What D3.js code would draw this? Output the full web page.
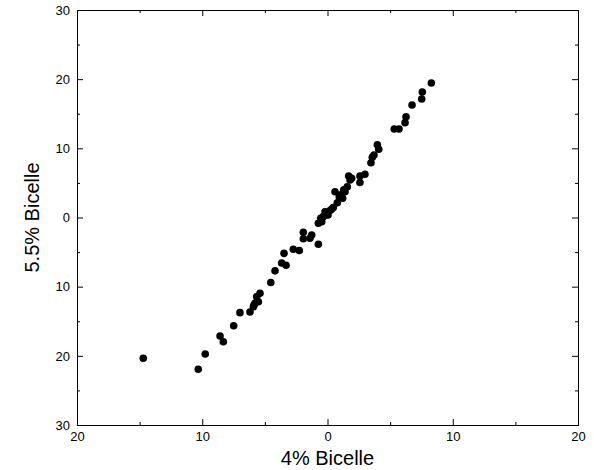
<!DOCTYPE html>
<html>
<head>
<meta charset="utf-8">
<script src="https://cdn.jsdelivr.net/npm/d3@7"></script>
<style>
  html, body { margin: 0; padding: 0; background: #fff; }
  svg { display: block; }
  .tick text { font-family: "Liberation Sans", Arial, Helvetica, sans-serif; font-size: 13px; fill: #000; }
</style>
</head>
<body>
<script>
// Data (4% Bicelle vs 5.5% Bicelle)
const xValues = [8.29, 7.57, 7.52, 6.75, 6.27, 6.19, 5.33, 5.71, 3.98, 4.09, 3.71, 3.58, 3.47, 2.99, 2.59, 2.59,
  1.69, 1.93, 1.80, 1.58, 1.40, 1.21, 0.60, 0.94, 0.78, 0.46, 0.34, -0.20, -0.34, -0.54, -0.73, -0.46, 0.04,
  0.20, -0.10, 1.05, 1.30,
  -1.93, -1.26, -1.93, -1.40, -0.73, -2.73, -2.25, -3.47, -3.66, -3.31, -4.19, -4.53, -5.39, -5.65, -5.79,
  -5.92, -5.52, -5.87, -6.19, -6.99, -7.49, -8.58, -8.32, -9.76, -10.32, -14.71];
const yValues = [19.45, 18.14, 17.13, 16.27, 14.57, 13.71, 12.79, 12.79, 10.52, 9.86, 9.04, 8.70, 7.92, 6.25, 6.00, 5.06,
  6.00, 5.67, 5.42, 4.45, 3.73, 2.78, 3.73, 3.01, 2.14, 1.45, 1.23, 0.84, 0.12, -0.12, -0.84, -0.61, 0.36,
  1.00, 0.40, 3.30, 4.00,
  -2.13, -2.53, -3.08, -3.01, -3.87, -4.60, -4.77, -5.18, -6.58, -6.90, -7.71, -9.40, -10.96, -11.45, -12.41,
  -12.90, -12.17, -12.65, -13.66, -13.76, -15.64, -17.13, -17.96, -19.73, -21.95, -20.36];
const xTicks = [-20, -10, 0, 10, 20];
const xMinorTicks = [-15, -5, 5, 15];
const yTicks = [-30, -20, -10, 0, 10, 20, 30];
const yMinorTicks = [-25, -15, -5, 5, 15, 25];
const xTitle = "4% Bicelle";
const yTitle = "5.5% Bicelle";

const W = 594, H = 470;
const L = 77, R = 578, T = 10, B = 425;

const svg = d3.select("body").append("svg").attr("width", W).attr("height", H);

const x = d3.scaleLinear().domain([-20, 20]).range([L, R]);
const y = d3.scaleLinear().domain([-30, 30]).range([B, T]);

const fmt = d => String(Math.abs(d));

function addAxis(axisGen, transform, showLabels) {
  const g = svg.append("g").attr("transform", transform).call(axisGen);
  g.select(".domain").remove();
  g.selectAll(".tick line").attr("stroke", "#000").attr("stroke-width", 1);
  if (!showLabels) g.selectAll(".tick text").remove();
  return g;
}

// Major ticks (inward)
addAxis(d3.axisBottom(x).tickValues(xTicks).tickFormat(fmt).tickSize(-6).tickSizeOuter(0).tickPadding(7), `translate(0,${B})`, true);
addAxis(d3.axisTop(x).tickValues(xTicks).tickSize(-6).tickSizeOuter(0), `translate(0,${T})`, false);
addAxis(d3.axisLeft(y).tickValues(yTicks).tickFormat(fmt).tickSize(-6).tickSizeOuter(0).tickPadding(7), `translate(${L},0)`, true);
addAxis(d3.axisRight(y).tickValues(yTicks).tickSize(-6).tickSizeOuter(0), `translate(${R},0)`, false);
// Minor ticks
addAxis(d3.axisBottom(x).tickValues(xMinorTicks).tickSize(-3).tickSizeOuter(0), `translate(0,${B})`, false);
addAxis(d3.axisTop(x).tickValues(xMinorTicks).tickSize(-3).tickSizeOuter(0), `translate(0,${T})`, false);
addAxis(d3.axisLeft(y).tickValues(yMinorTicks).tickSize(-3).tickSizeOuter(0), `translate(${L},0)`, false);
addAxis(d3.axisRight(y).tickValues(yMinorTicks).tickSize(-3).tickSizeOuter(0), `translate(${R},0)`, false);

// Frame
svg.append("rect")
  .attr("x", L + 0.5).attr("y", T + 0.5)
  .attr("width", R - L).attr("height", B - T)
  .attr("fill", "none").attr("stroke", "#000").attr("stroke-width", 1);

// Points
const data = xValues.map((v, i) => ({ x: v, y: yValues[i] }));
svg.append("g").selectAll("circle").data(data).join("circle")
  .attr("cx", d => x(d.x)).attr("cy", d => y(d.y)).attr("r", 3.8).attr("fill", "#000");

// Titles
svg.append("text")
  .attr("x", (L + R) / 2).attr("y", 465)
  .attr("text-anchor", "middle")
  .attr("font-family", "Liberation Sans, Arial, Helvetica, sans-serif")
  .attr("font-size", 20).text(xTitle);

svg.append("text")
  .attr("transform", `translate(39,${(T + B) / 2}) rotate(-90)`)
  .attr("text-anchor", "middle")
  .attr("font-family", "Liberation Sans, Arial, Helvetica, sans-serif")
  .attr("font-size", 20).text(yTitle);
</script>
</body>
</html>
